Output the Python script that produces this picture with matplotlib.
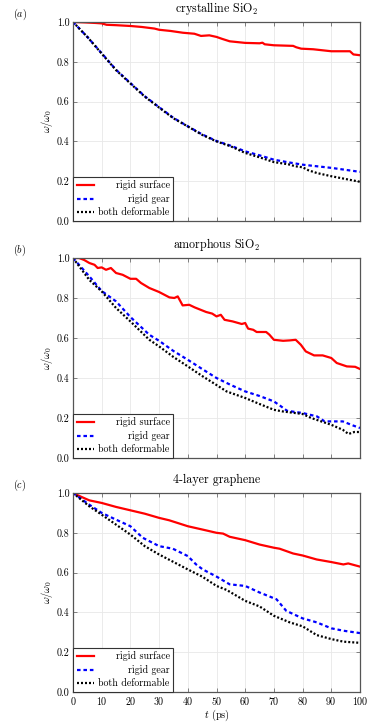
import matplotlib
matplotlib.use("Agg")
import matplotlib.pyplot as plt

plt.rcParams["font.family"] = "serif"
plt.rcParams["font.serif"] = ["cmr10"]
plt.rcParams["mathtext.fontset"] = "cm"
plt.rcParams["axes.formatter.use_mathtext"] = True
plt.rcParams["font.size"] = 7.2

# ---- data (t in ps, omega/omega_0) ----
# (a) crystalline SiO2
t_a_red = [0, 4, 8, 10, 11.7, 15, 20, 24, 28.4, 30, 34, 38.3, 42.3, 44.6, 47.5, 50, 52, 54.6,
           60, 65, 66, 66.8, 70, 76.7, 77.8, 79.5, 83.7, 90, 96.5, 97.7, 100]
a_red = [1.0, 0.998, 0.995, 0.993, 0.986, 0.984, 0.980, 0.975, 0.967, 0.961, 0.955, 0.946, 0.941,
         0.930, 0.933, 0.925, 0.915, 0.903, 0.895, 0.893, 0.896, 0.888, 0.883, 0.880, 0.873,
         0.866, 0.863, 0.853, 0.853, 0.837, 0.833]
t_a_blue = [0, 5, 10, 15, 20, 25, 30, 35, 40, 45, 50, 55, 60, 65, 70, 75, 80, 85, 90, 95, 100]
a_blue = [1.0, 0.925, 0.843, 0.76, 0.693, 0.627, 0.572, 0.518, 0.476, 0.435, 0.402, 0.378, 0.35,
          0.33, 0.308, 0.295, 0.283, 0.275, 0.267, 0.257, 0.247]
t_a_black = [0, 5, 10, 15, 20, 25, 30, 35, 40, 45, 50, 55, 60, 65, 70, 75, 77.5, 80, 82, 85, 90,
             95, 100]
a_black = [1.0, 0.925, 0.841, 0.758, 0.691, 0.625, 0.57, 0.516, 0.475, 0.433, 0.400, 0.375, 0.342,
           0.32, 0.296, 0.285, 0.275, 0.27, 0.255, 0.241, 0.225, 0.211, 0.197]

# (b) amorphous SiO2
t_b_red = [0, 2.1, 3.9, 5.7, 7.5, 8.6, 10, 11.5, 13.2, 15, 17.3, 20, 22, 23.7, 26.6, 30, 33.6,
           35.3, 36.5, 38.2, 40.5, 42.4, 46.4, 48.5, 50, 51.5, 52.8, 55.6, 58.8, 60, 61, 62.8,
           64, 67.3, 68.4, 70, 73.2, 75.5, 77.6, 79.4, 81.1, 84, 87, 90, 91.9, 95.4, 98.3, 100]
b_red = [1.0, 1.0, 0.99, 0.975, 0.966, 0.95, 0.953, 0.941, 0.95, 0.925, 0.916, 0.896, 0.896,
         0.875, 0.85, 0.83, 0.803, 0.80, 0.808, 0.763, 0.766, 0.753, 0.73, 0.722, 0.708, 0.716,
         0.691, 0.683, 0.67, 0.675, 0.647, 0.641, 0.63, 0.63, 0.617, 0.591, 0.586, 0.588, 0.591,
         0.566, 0.533, 0.513, 0.513, 0.50, 0.475, 0.458, 0.456, 0.445]
t_b_blue = [0, 5.7, 10, 15, 20, 26.6, 30, 35, 40, 45, 50, 55, 60, 65, 70, 72.5, 74.6, 80, 85,
            87.7, 90, 94, 97.5, 100]
b_blue = [1.0, 0.908, 0.835, 0.783, 0.705, 0.616, 0.586, 0.535, 0.491, 0.445, 0.40, 0.365, 0.333,
          0.31, 0.283, 0.258, 0.236, 0.225, 0.208, 0.183, 0.183, 0.183, 0.163, 0.15]
t_b_black = [0, 5.7, 10, 15, 20, 26.6, 30, 35, 40, 45, 50, 53.5, 60, 65, 70, 73, 80, 83, 90, 94,
             96, 98, 100]
b_black = [1.0, 0.89, 0.833, 0.75, 0.683, 0.591, 0.558, 0.505, 0.458, 0.41, 0.365, 0.333, 0.30,
           0.27, 0.241, 0.233, 0.22, 0.2, 0.166, 0.141, 0.12, 0.13, 0.13]

# (c) 4-layer graphene
t_c_red = [0, 3, 5.7, 10, 15, 20, 25, 30, 33.5, 40, 45.2, 50, 52.3, 54.6, 60, 65, 70, 72, 76.7,
           80, 84.9, 90, 94.2, 95.9, 100]
c_red = [1.0, 0.98, 0.963, 0.95, 0.93, 0.913, 0.896, 0.875, 0.863, 0.833, 0.816, 0.80, 0.796,
         0.78, 0.763, 0.741, 0.725, 0.72, 0.696, 0.686, 0.666, 0.653, 0.641, 0.646, 0.63]
t_c_blue = [0, 5.7, 10, 15, 20, 24.3, 30, 34.8, 40, 42.9, 45.2, 50, 54.6, 60, 65, 70.9, 74.3, 80,
            84.9, 90, 94.2, 100]
c_blue = [1.0, 0.941, 0.9, 0.866, 0.833, 0.775, 0.733, 0.72, 0.683, 0.641, 0.616, 0.58, 0.541,
          0.533, 0.5, 0.466, 0.408, 0.37, 0.35, 0.32, 0.308, 0.296]
t_c_black = [0, 5.7, 10, 15, 20, 25, 30, 40, 45, 50, 53.5, 60, 65, 70, 75.5, 80, 84.9, 90, 94.2,
             100]
c_black = [1.0, 0.933, 0.891, 0.841, 0.791, 0.733, 0.691, 0.616, 0.58, 0.533, 0.513, 0.458, 0.43,
           0.383, 0.35, 0.33, 0.286, 0.266, 0.253, 0.247]

titles = ["crystalline SiO$_2$", "amorphous SiO$_2$", "4-layer graphene"]
panel_tags = ["$(a)$", "$(b)$", "$(c)$"]
labels = ["rigid surface", "rigid gear", "both deformable"]
panels = [
    [(t_a_red, a_red), (t_a_blue, a_blue), (t_a_black, a_black)],
    [(t_b_red, b_red), (t_b_blue, b_blue), (t_b_black, b_black)],
    [(t_c_red, c_red), (t_c_blue, c_blue), (t_c_black, c_black)],
]
xticks = list(range(0, 101, 10))
yticks = [0.0, 0.2, 0.4, 0.6, 0.8, 1.0]

fig = plt.figure(figsize=(3.74, 7.23), dpi=100)
W, H = 374, 723
boxes = [(73, 22, 287, 199), (73, 258, 287, 200), (73, 493, 287, 199)]

axes = []
legends = []
for i, (x0, y0, w, h) in enumerate(boxes):
    ax = fig.add_axes([x0 / W, 1 - (y0 + h) / H, w / W, h / H])
    axes.append(ax)
    (tr, vr), (tb, vb), (tk, vk) = panels[i]
    ax.plot(tr, vr, color="red", lw=1.6, solid_joinstyle="round", label=labels[0])
    ax.plot(tb, vb, color="blue", lw=1.6, linestyle=(0, (1.6, 1.3)), label=labels[1])
    ax.plot(tk, vk, color="black", lw=1.6, linestyle=(0, (0.9, 0.9)), label=labels[2])
    ax.set_xlim(0, 100)
    ax.set_ylim(0, 1)
    ax.set_xticks(xticks)
    ax.set_yticks(yticks)
    ax.set_yticklabels([f"{v:.1f}" for v in yticks])
    if i < 2:
        ax.set_xticklabels([])
    else:
        ax.set_xlabel("$t$ (ps)", labelpad=0, fontsize=7.4)
    ax.set_ylabel(r"$\omega/\omega_0$", labelpad=1, fontsize=7.6)
    ax.grid(True, color="#e8e8e8", lw=0.6)
    ax.set_axisbelow(True)
    ax.tick_params(direction="in", length=3, width=0.5, color="#555555",
                   top=True, right=True, pad=2.5)
    for s in ax.spines.values():
        s.set_color("#555555")
        s.set_linewidth(0.9)
    ax.set_title(titles[i], pad=7)
    fig.text(13 / W, 1 - (y0 - 8) / H, panel_tags[i], ha="left", va="center")
    leg = ax.legend(loc="lower left", borderaxespad=0, fancybox=False, framealpha=1,
                    edgecolor="#333333", handlelength=1.75, handletextpad=0.4,
                    labelspacing=0.36, borderpad=0.38)
    leg.get_frame().set_linewidth(0.8)
    legends.append(leg)

# right-align legend labels like pgfplots
fig.canvas.draw()
r = fig.canvas.get_renderer()
for leg in legends:
    texts = leg.get_texts()
    widths = [t.get_window_extent(r).width for t in texts]
    wmax = max(widths)
    for t, w in zip(texts, widths):
        t.set_position((wmax - w, 0))

fig.savefig("out.png", dpi=100)
